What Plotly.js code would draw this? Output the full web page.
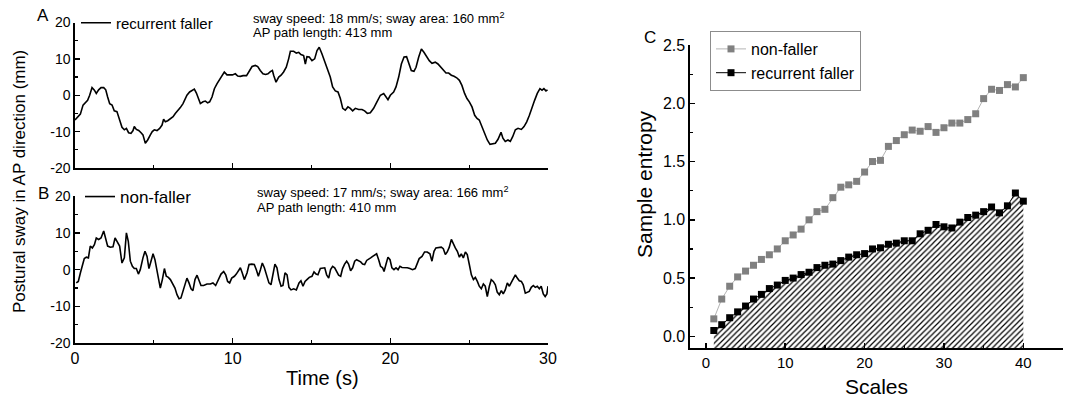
<!DOCTYPE html>
<html>
<head>
<meta charset="utf-8">
<script src="https://cdn.plot.ly/plotly-3.0.1.min.js"></script>
<style>html,body{margin:0;padding:0;background:#fff;}#chart{width:1070px;height:404px;}</style>
</head>
<body>
<div id="chart"></div>
<script>
// ---------- Panel A: recurrent faller, postural sway (mm) vs time (s) ----------
const timeA = [
0.00,0.13,0.34,0.51,0.66,0.80,0.93,1.08,1.23,1.35,
1.50,1.65,1.82,1.95,2.07,2.20,2.35,2.49,2.66,2.83,
2.98,3.13,3.26,3.40,3.55,3.68,3.76,3.89,4.04,4.19,
4.31,4.46,4.61,4.78,4.90,5.03,5.20,5.37,5.52,5.62,
5.73,5.88,6.05,6.22,6.36,6.51,6.68,6.85,6.98,7.10,
7.27,7.42,7.57,7.70,7.84,7.95,8.12,8.27,8.41,8.54,
8.69,8.84,9.01,9.18,9.32,9.47,9.64,9.81,9.98,10.17,
10.32,10.49,10.66,10.88,11.04,11.23,11.44,11.59,11.75,11.92,
12.09,12.24,12.39,12.52,12.60,12.75,12.92,13.07,13.23,13.40,
13.55,13.66,13.87,14.04,14.19,14.33,14.50,14.61,
14.71,14.86,15.03,15.20,15.35,15.49,15.66,15.83,16.00,16.19,
16.34,16.51,16.68,16.83,16.98,17.14,17.31,17.46,17.61,17.78,
17.99,18.20,18.37,18.54,18.73,18.94,19.15,19.37,19.58,19.72,
19.85,20.00,20.21,20.36,20.53,20.70,20.87,21.03,21.20,21.33,
21.50,21.63,21.80,21.97,22.13,22.31,22.47,22.64,22.85,23.02,
23.19,23.36,23.53,23.70,23.87,24.04,24.21,24.38,24.54,24.71,
24.86,25.01,25.18,25.35,25.50,25.64,25.81,25.98,26.15,26.32,
26.49,26.66,26.83,27.02,27.14,27.29,27.46,27.61,27.76,27.93,
28.10,28.31,28.48,28.65,28.82,28.98,29.15,29.32,29.49,29.62,
29.74,29.87,29.97
];
const swayA = [
-6.8,-6.1,-5.2,-2.7,-1.9,-1.4,0,2.1,1.4,0.5,
1.5,2.1,2.1,1.5,-0.5,-2.3,-2.7,-4.3,-4.5,-6.8,
-8.8,-9.5,-9.1,-10.3,-10.5,-9.7,-8.6,-9.4,-9.7,-10.3,
-10.9,-13.2,-12.3,-10.9,-10.0,-9.5,-9.7,-9.1,-8.2,-6.6,
-7.3,-7.0,-6.5,-5.9,-5.0,-4.3,-3.4,-2.3,-1.2,0,
0.9,1.4,1.7,0.6,-0.9,-2.3,-1.8,-1.6,-2.1,-1.8,
-0.5,1.8,3.2,4.3,5.2,6.4,5.6,5.5,5.6,5.9,
5.3,5.2,5.4,5.4,6.5,7.9,8.2,7.9,6.8,5.9,
5.7,5.9,6.5,6.8,5.5,3.6,5.0,5.5,6.4,7.7,
10.0,12.1,12.1,11.6,11.8,11.2,10.9,8.6,
10.6,10.5,9.5,10.0,12.3,13.2,11.4,9.4,7.7,5.0,
2.3,1.2,0.9,-0.9,-3.6,-4.1,-3.2,-3.6,-4.3,-3.6,
-3.9,-3.9,-4.3,-5.0,-4.8,-3.6,-1.8,0,0.5,-0.3,
-1.2,0,0.9,2.3,5.0,8.6,10.5,10.6,8.6,6.8,
6.6,7.7,10.5,12.7,11.8,10.6,9.5,8.8,9.1,8.6,
7.7,6.8,6.1,6.1,5.5,5.2,4.8,4.1,2.7,0.5,
-0.9,-1.8,-3.2,-5.5,-6.4,-6.8,-8.6,-10.5,-12.3,-13.5,
-13.4,-13.2,-12.1,-10.2,-11.8,-12.7,-12.3,-12.7,-11.4,-9.5,
-9.1,-9.4,-8.6,-7.3,-5.5,-3.2,-1.4,0.5,1.8,1.4,
1.8,1.2,1.5
];

// ---------- Panel B: non-faller ----------
const timeB = [
0.08,0.21,0.34,0.47,0.59,0.72,0.85,0.97,1.10,1.23,
1.35,1.50,1.65,1.82,1.95,2.07,2.24,2.41,2.54,2.66,
2.83,2.98,3.13,3.26,3.38,3.51,3.64,3.76,3.89,4.02,
4.14,4.31,4.44,4.57,4.69,4.82,4.95,5.07,5.20,5.33,
5.41,5.54,5.67,5.79,5.92,6.05,6.22,6.34,6.47,6.60,
6.72,6.85,7.00,7.10,7.23,7.36,7.48,7.61,7.74,7.86,
7.99,8.16,8.37,8.58,8.75,8.92,9.09,9.26,9.43,9.56,
9.68,9.81,9.94,10.11,10.23,10.36,10.49,10.61,10.74,10.91,
11.04,11.21,11.37,11.50,11.63,11.76,11.88,12.01,12.18,12.30,
12.43,12.56,12.68,12.81,12.94,13.07,13.19,13.32,13.45,13.57,
13.70,13.87,14.04,14.21,14.33,14.46,14.59,
14.71,14.86,15.03,15.16,15.29,15.41,15.56,15.71,15.84,15.96,
16.09,16.21,16.34,16.47,16.59,16.72,16.85,16.97,17.10,17.23,
17.35,17.48,17.61,17.74,17.86,17.99,18.12,18.24,18.37,18.50,
18.63,18.75,18.88,19.01,19.13,19.26,19.38,19.51,19.60,19.72,
19.85,19.98,20.10,20.23,20.36,20.49,20.61,20.74,20.91,21.08,
21.24,21.41,21.58,21.71,21.83,22.01,22.17,22.34,22.51,22.64,
22.77,22.89,23.06,23.23,23.36,23.49,23.61,23.74,23.87,24.00,
24.12,24.25,24.38,24.50,24.63,24.76,24.88,25.01,25.14,25.27,
25.39,25.52,25.64,25.77,25.90,26.02,26.15,26.28,26.40,26.53,
26.66,26.78,26.91,27.04,27.16,27.29,27.42,27.55,27.67,27.80,
27.93,28.05,28.18,28.31,28.43,28.56,28.69,28.81,28.94,29.07,
29.19,29.32,29.45,29.57,29.70,29.82,29.93,30.00
];
const swayB = [
-3.6,-3.2,-0.9,1.5,3.0,3.4,3.2,6.4,5.9,6.8,
8.6,8.2,8.6,10.5,8.6,6.4,6.1,6.2,8.6,7.7,
6.4,1.8,3.2,10.0,7.7,2.3,0.9,0.3,0.3,-1.2,
0,3.2,5.0,3.6,0.3,2.3,4.3,2.7,-0.5,-3.2,
-5.0,-2.7,0.3,-1.8,-2.1,-2.7,-4.1,-5.0,-6.8,-7.9,
-7.7,-5.7,-3.2,-2.3,-3.6,-5.2,-5.7,-2.7,-1.5,-3.0,
-4.3,-4.3,-3.9,-3.9,-3.6,-4.3,-2.7,-1.2,-0.5,-1.4,
-3.2,-3.6,-2.3,-1.8,-1.2,-0.5,0.5,-0.9,-2.7,-0.9,
1.4,1.5,1.4,0,-1.8,0,1.8,0.5,-2.3,-3.6,
-4.1,-1.4,1.5,0.5,-2.7,-4.5,-4.3,-0.9,-1.4,-4.8,
-5.5,-5.2,-5.5,-3.6,-3.0,-4.5,-3.2,
-2.7,-2.1,-1.8,-0.6,-1.2,-1.4,0.3,0.5,0.5,-1.4,
-2.3,0,0.9,0.5,-0.6,-1.5,-1.8,0.3,1.5,2.3,
1.5,-0.3,0.5,2.3,2.7,2.5,2.1,1.5,1.4,2.5,
3.0,3.2,3.6,4.1,4.3,2.7,0.9,0.5,-0.5,1.4,
3.4,2.7,0.5,0,0.5,0,0.9,0.6,0.6,0.5,
0.3,0,0.3,1.8,3.0,3.6,4.8,4.8,4.3,2.3,
5.0,5.9,6.1,6.1,5.7,4.1,4.8,6.1,8.2,6.8,
5.9,5.0,3.4,4.3,3.2,4.8,4.1,1.4,-1.4,-2.7,
-2.1,-3.2,-4.5,-5.2,-3.9,-4.5,-7.3,-4.5,-2.7,-3.2,
-4.1,-6.1,-6.8,-5.7,-6.6,-5.5,-3.6,-4.5,-3.6,-2.3,
-1.4,-2.3,-3.0,-3.2,-4.1,-6.4,-6.1,-5.9,-4.8,-4.3,
-4.8,-4.5,-5.2,-4.5,-6.6,-7.3,-6.6,-4.5
];

// ---------- Panel C: sample entropy vs scale ----------
const scales = [1,2,3,4,5,6,7,8,9,10,11,12,13,14,15,16,17,18,19,20,
                21,22,23,24,25,26,27,28,29,30,31,32,33,34,35,36,37,38,39,40];
const entropyNonFaller = [
0.15,0.32,0.43,0.51,0.56,0.61,0.66,0.70,0.75,0.82,
0.87,0.92,1.00,1.07,1.09,1.19,1.28,1.30,1.33,1.41,
1.50,1.51,1.63,1.68,1.73,1.77,1.76,1.80,1.75,1.79,
1.83,1.83,1.86,1.91,2.04,2.12,2.11,2.16,2.14,2.22
];
const entropyRecurrent = [
0.05,0.10,0.16,0.21,0.26,0.32,0.36,0.41,0.44,0.48,
0.50,0.53,0.55,0.59,0.61,0.62,0.65,0.68,0.70,0.71,
0.75,0.76,0.79,0.80,0.82,0.82,0.88,0.91,0.96,0.94,
0.93,0.98,1.02,1.04,1.07,1.11,1.06,1.12,1.23,1.16
];

// ---------- tick labels ----------
const swayTickVals = [-20,-10,0,10,20];
const swayTickText = ['-20','-10','0','10','20'];
const timeTickVals = [0,10,20,30];
const timeTickText = ['0','10','20','30'];
const scaleTickVals = [0,10,20,30,40];
const scaleTickText = ['0','10','20','30','40'];
const entropyTickVals = [0,0.5,1.0,1.5,2.0,2.5];
const entropyTickText = ['0.0','0.5','1.0','1.5','2.0','2.5'];

const W = 1070, H = 404;
const px = v => v / W;
const py = v => 1 - v / H;
const entropyMin = -0.1;

const axisCommon = {
  showline: true, linecolor: 'black', linewidth: 1.6, mirror: false,
  ticks: 'inside', ticklen: 5, tickwidth: 1.5, tickcolor: 'black',
  showgrid: false, zeroline: false, fixedrange: true,
  tickfont: {size: 14, color: 'black'},
  minor: {ticks: 'inside', ticklen: 3, tickwidth: 1.2, tickcolor: 'black', showgrid: false}
};

const traces = [
  {x: timeA, y: swayA, xaxis: 'x', yaxis: 'y', mode: 'lines', name: 'recurrent faller',
   line: {color: 'black', width: 1.6}, legend: 'legend', hoverinfo: 'skip'},
  {x: timeB, y: swayB, xaxis: 'x2', yaxis: 'y2', mode: 'lines', name: 'non-faller',
   line: {color: 'black', width: 1.6}, legend: 'legend2', hoverinfo: 'skip'},
  // baseline at the bottom of the entropy axis, for the hatched area
  {x: [scales[0], scales[scales.length - 1]], y: [entropyMin, entropyMin], xaxis: 'x3', yaxis: 'y3',
   mode: 'lines', line: {width: 0, color: 'rgba(0,0,0,0)'}, showlegend: false, hoverinfo: 'skip'},
  {x: scales, y: entropyRecurrent, xaxis: 'x3', yaxis: 'y3', mode: 'none', fill: 'tonexty',
   fillcolor: 'white',
   fillpattern: {shape: '/', fgcolor: 'black', bgcolor: 'white', size: 4, solidity: 0.3},
   showlegend: false, hoverinfo: 'skip'},
  {x: scales, y: entropyNonFaller, xaxis: 'x3', yaxis: 'y3', mode: 'lines+markers', name: 'non-faller',
   line: {color: '#b4b4b4', width: 1}, marker: {symbol: 'square', size: 7, color: '#808080'},
   legend: 'legend3', legendrank: 1},
  {x: scales, y: entropyRecurrent, xaxis: 'x3', yaxis: 'y3', mode: 'lines+markers', name: 'recurrent faller',
   line: {color: 'black', width: 1}, marker: {symbol: 'square', size: 7, color: 'black'},
   legend: 'legend3', legendrank: 2}
];

const ann = (text, x, y, size, extra) => Object.assign({
  text: text, xref: 'paper', yref: 'paper', x: px(x), y: py(y), showarrow: false,
  font: {size: size}, xanchor: 'center', yanchor: 'middle'}, extra || {});

const layout = {
  width: W, height: H,
  margin: {l: 0, r: 0, t: 0, b: 0},
  paper_bgcolor: 'white', plot_bgcolor: 'rgba(0,0,0,0)',
  font: {family: '"Liberation Sans", Arial, sans-serif', color: 'black', size: 14},
  showlegend: true,
  xaxis: Object.assign({}, axisCommon, {domain: [px(75), px(548)], anchor: 'y', range: [0, 30],
    tickvals: timeTickVals, ticktext: timeTickText, showticklabels: false,
    minor: Object.assign({}, axisCommon.minor, {tickvals: [5,15,25]})}),
  yaxis: Object.assign({}, axisCommon, {domain: [py(168), py(22.5)], anchor: 'x', range: [-20, 20],
    tickvals: swayTickVals, ticktext: swayTickText,
    minor: Object.assign({}, axisCommon.minor, {tickvals: [-15,-5,5,15]})}),
  xaxis2: Object.assign({}, axisCommon, {domain: [px(75), px(548)], anchor: 'y2', range: [0, 30],
    tickvals: timeTickVals, ticktext: timeTickText, tickfont: {size: 16, color: 'black'},
    minor: Object.assign({}, axisCommon.minor, {tickvals: [5,15,25]})}),
  yaxis2: Object.assign({}, axisCommon, {domain: [py(343.3), py(196)], anchor: 'x2', range: [-20, 20],
    tickvals: swayTickVals, ticktext: swayTickText,
    minor: Object.assign({}, axisCommon.minor, {tickvals: [-15,-5,5,15]})}),
  xaxis3: Object.assign({}, axisCommon, {domain: [px(690), px(1063)], anchor: 'y3', range: [-2, 45],
    tickvals: scaleTickVals, ticktext: scaleTickText, tickfont: {size: 15, color: 'black'},
    minor: Object.assign({}, axisCommon.minor, {tickvals: [5,15,25,35]}),
    title: {text: 'Scales', font: {size: 21}, standoff: 10}}),
  yaxis3: Object.assign({}, axisCommon, {domain: [py(348), py(45)], anchor: 'x3', range: [entropyMin, 2.5],
    tickvals: entropyTickVals, ticktext: entropyTickText, tickfont: {size: 16, color: 'black'},
    minor: Object.assign({}, axisCommon.minor, {tickvals: [0.25,0.75,1.25,1.75,2.25]})}),
  legend: {x: px(76), y: py(23), xanchor: 'left', yanchor: 'middle', bgcolor: 'rgba(0,0,0,0)',
    borderwidth: 0, font: {size: 15}},
  legend2: {x: px(80), y: py(197), xanchor: 'left', yanchor: 'middle', bgcolor: 'rgba(0,0,0,0)',
    borderwidth: 0, font: {size: 17}},
  legend3: {x: px(710), y: py(31), xanchor: 'left', yanchor: 'top', bgcolor: 'white',
    bordercolor: '#8c8c8c', borderwidth: 1, font: {size: 16}, tracegroupgap: 0},
  annotations: [
    ann('Postural sway in AP direction (mm)', 20, 182, 17, {textangle: -90}),
    ann('Time (s)', 322, 378, 20),
    ann('Sample entropy', 645, 184, 21, {textangle: -90}),
    ann('A', 43, 15, 17),
    ann('B', 43, 193, 17),
    ann('C', 650, 38, 17),
    ann('sway speed: 18 mm/s; sway area: 160 mm<sup>2</sup>', 251, 18, 13, {xanchor: 'left'}),
    ann('AP path length: 413 mm', 251, 33, 13, {xanchor: 'left'}),
    ann('sway speed: 17 mm/s; sway area: 166 mm<sup>2</sup>', 255, 192, 13, {xanchor: 'left'}),
    ann('AP path length: 410 mm', 255, 207, 13, {xanchor: 'left'})
  ]
};

Plotly.newPlot('chart', traces, layout, {displayModeBar: false, staticPlot: true});
</script>
</body>
</html>
